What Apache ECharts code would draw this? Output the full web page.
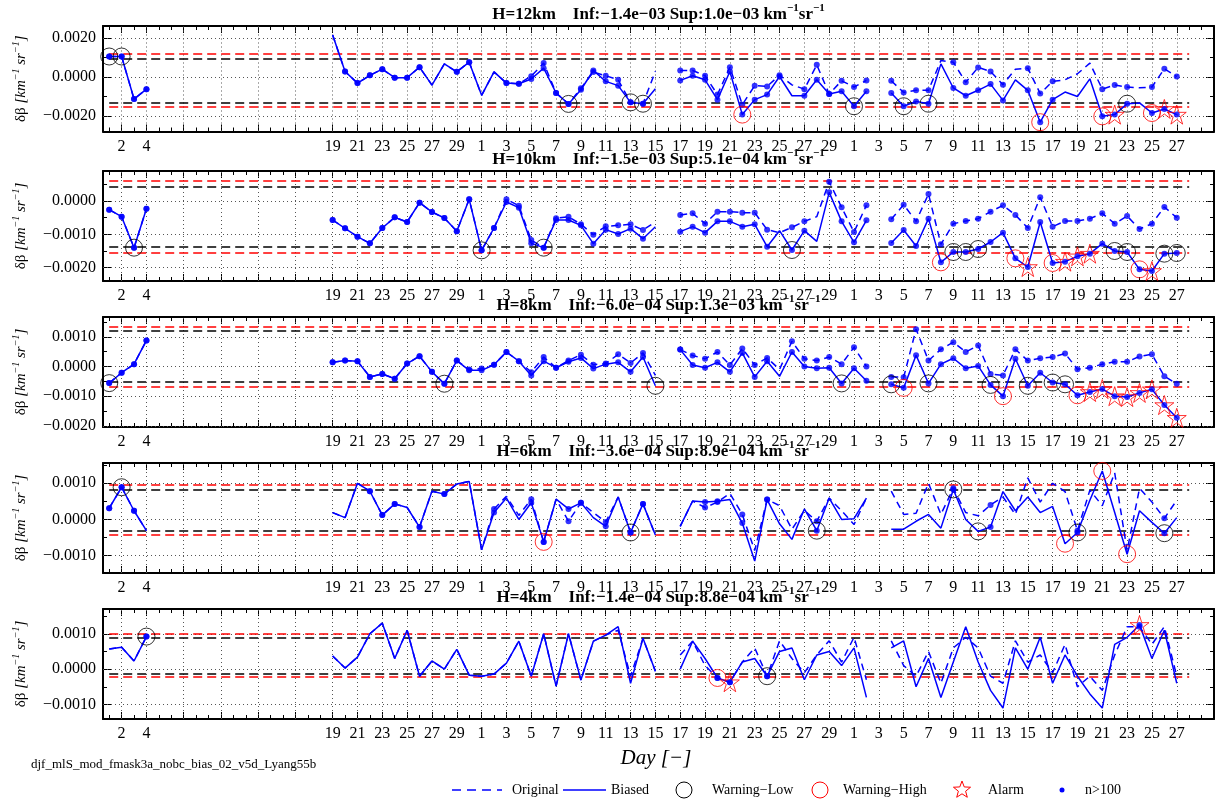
<!DOCTYPE html>
<html>
<head>
<meta charset="utf-8">
<script src="https://cdn.jsdelivr.net/npm/echarts@6/dist/echarts.min.js"></script>
<style>
  html, body { margin: 0; padding: 0; background: #ffffff; }
  #chart { width: 1221px; height: 803px; }
</style>
</head>
<body>
<div id="chart"></div>
<script>
// ---------------- axis labels ----------------
// x positions are day slots (30-day months); labelled slots and their day-of-month text
const tickSlots = [2, 4, 19, 21, 23, 25, 27, 29, 31, 33, 35, 37, 39, 41, 43, 45, 47, 49, 51, 53, 55, 57, 59,
                   61, 63, 65, 67, 69, 71, 73, 75, 77, 79, 81, 83, 85, 87];
const tickLabels = ['2', '4', '19', '21', '23', '25', '27', '29', '1', '3', '5', '7', '9', '11', '13', '15', '17', '19', '21', '23', '25', '27', '29',
                    '1', '3', '5', '7', '9', '11', '13', '15', '17', '19', '21', '23', '25', '27'];
const gapGridSlots = [7, 10, 13, 16];

// ---------------- H = 12 km ----------------
const bias12 = [0.00106, 0.00106, -0.00113, -0.00062, null, null, null, null, null, null,
  null, null, null, null, null, null, null, null, 0.00217, 0.00029,
  -0.00031, 0.00009, 0.00041, -0.00003, -0.00003, 0.00051, -0.00041, 0.00068, 0.00027, 0.00077,
  -0.00094, 0.00027, -0.00031, -0.00034, -0.0001, 0.00046, -0.00082, -0.00138, -0.00065, 0.00034,
  -0.00022, -0.00044, -0.0013, -0.00137, -0.0006, null, -0.00017, 0.00007, -0.00014, -0.00116,
  0.00029, -0.00193, -0.00116, -0.0009, 0.00003, -0.00096, -0.00096, -0.00014, -0.00087, -0.00073,
  -0.0015, -0.00073, null, -0.00082, -0.0015, -0.00125, -0.00137, 0.00068, -0.00056, -0.00096,
  -0.00068, -0.00036, -0.0012, -0.00014, -0.00068, -0.00232, -0.00116, -0.00077, -0.001, -0.00009,
  -0.00202, -0.00193, -0.00137, -0.00133, -0.00185, -0.00164, -0.00193];
const orig12 = [0.00106, 0.00106, -0.00113, -0.00062, null, null, null, null, null, null,
  null, null, null, null, null, null, null, null, 0.00217, 0.00029,
  -0.00031, 0.00009, 0.00041, -0.00003, -0.00003, 0.00051, -0.00041, 0.00068, 0.00027, 0.00077,
  -0.00094, 0.00027, -0.00031, -0.00034, 0.00005, 0.00072, -0.00082, -0.00138, -0.00058, 0.00026,
  0.00007, -0.00014, -0.0013, -0.00137, 0.0003, null, 0.00034, 0.00034, 0.00007, -0.0009,
  0.00051, -0.00142, -0.00044, -0.00048, 0.0001, -0.0004, -0.00062, 0.00063, -0.00087, -0.00019,
  -0.00051, -0.00017, null, -0.00019, -0.00079, -0.00068, -0.00068, 0.00085, 0.00077, -0.00027,
  0.0005, 0.00029, -0.00039, 0.00041, 0.00046, -0.00085, -0.00022, -0.00014, 0.00017, 0.00072,
  -0.00062, -0.00041, -0.00051, -0.00055, -0.00051, 0.00043, 0.00003];
const dots12 = [1, 2, 3, 4, 20, 21, 22, 23, 24, 25, 26, 29, 30, 33, 34, 35, 36, 37, 38, 39, 40, 41, 42, 43, 44,
  47, 48, 49, 50, 51, 52, 53, 54, 55, 57, 58, 59, 60, 61, 62, 64, 65, 66, 67, 69, 70, 71, 72, 73, 75, 76, 77,
  81, 82, 83, 85, 86, 87];
const low12 = [1, 2, 38, 43, 44, 61, 65, 67, 83];
const high12 = [52, 76, 81, 85];
const alarm12 = [82, 86, 87];
const black12 = [-0.0013, 0.00095];
const red12 = [-0.00155, 0.0012];
const yRange12 = [-0.0028, 0.00263];
const yLabels12 = [-0.002, 0, 0.002];
const yMinor12 = [-0.001, 0.001];

// ---------------- H = 10 km ----------------
const bias10 = [-0.00026, -0.00047, -0.0014, -0.00023, null, null, null, null, null, null,
  null, null, null, null, null, null, null, null, -0.00057, -0.00082,
  -0.00107, -0.00127, -0.00081, -0.00049, -0.00063, -0.00005, -0.00033, -0.00051, -0.00091, 0.00005,
  -0.00148, -0.00081, -0.00003, -0.0002, -0.00127, -0.0014, -0.00057, -0.00057, -0.00073, -0.00128,
  -0.00086, -0.00099, -0.00083, -0.00113, -0.00077, null, -0.00092, -0.00077, -0.00095, -0.00061,
  -0.00061, -0.00077, -0.0007, -0.00137, -0.00089, -0.00147, -0.00089, -0.00121, 0.00026, -0.00061,
  -0.00124, -0.00058, null, -0.00126, -0.00087, -0.00135, -0.00053, -0.00184, -0.00153, -0.00153,
  -0.00144, -0.00123, -0.00095, -0.00172, -0.00198, -0.00063, -0.00186, -0.00182, -0.00166, -0.00158,
  -0.00128, -0.0015, -0.00153, -0.00205, -0.0021, -0.00158, -0.00156];
const orig10 = [-0.00026, -0.00047, -0.0014, -0.00023, null, null, null, null, null, null,
  null, null, null, null, null, null, null, null, -0.00057, -0.00082,
  -0.00107, -0.00127, -0.00081, -0.00049, -0.00063, -0.00005, -0.00033, -0.00051, -0.00091, 0.00005,
  -0.00148, -0.00081, 0.00005, -0.00014, -0.00117, -0.0014, -0.00052, -0.00047, -0.0007, -0.00101,
  -0.00076, -0.00073, -0.0007, -0.00087, -0.00063, null, -0.00042, -0.00037, -0.00068, -0.00032,
  -0.00032, -0.00035, -0.00035, -0.00086, -0.00095, -0.00079, -0.00061, -0.00047, 0.00058, -0.00019,
  -0.00093, -0.00013, null, -0.00055, -0.00011, -0.00061, 0.00021, -0.0013, -0.00068, -0.0006,
  -0.00053, -0.00032, -0.00013, -0.00042, -0.00081, 0.00011, -0.00077, -0.0006, -0.0006, -0.00053,
  -0.00037, -0.00068, -0.00045, -0.00084, -0.00068, -0.00018, -0.0005];
const dots10 = [1, 2, 3, 4, 19, 20, 21, 22, 23, 24, 25, 26, 27, 28, 29, 30, 31, 32, 33, 34, 35, 36, 37, 38, 39,
  40, 41, 42, 43, 44, 47, 48, 49, 50, 51, 52, 53, 54, 56, 57, 59, 60, 61, 62, 64, 65, 66, 67, 68, 69, 70, 71,
  72, 73, 74, 75, 76, 77, 78, 79, 80, 81, 82, 83, 84, 85, 86, 87];
const low10 = [3, 31, 36, 56, 69, 70, 71, 82, 83, 86, 87];
const high10 = [68, 74, 77, 84];
const alarm10 = [75, 78, 79, 80, 85];
const black10 = [-0.00138, 0.00044];
const red10 = [-0.00156, 0.0006];
const yRange10 = [-0.0024, 0.0009];
const yLabels10 = [-0.002, -0.001, 0];
const yMinor10 = [-0.0015, -0.0005, 0.0005];

// ---------------- H = 8 km ----------------
const bias8 = [-0.00056, -0.00021, 0.00008, 0.00088, null, null, null, null, null, null,
  null, null, null, null, null, null, null, null, 0.00014, 0.0002,
  0.00018, -0.00035, -0.00025, -0.00041, 0.0001, 0.00035, -0.00018, -0.00058, 0.0002, -0.00013,
  -0.00013, 0.00006, 0.00049, 0.00018, -0.0003, 0.00018, -0.00004, 0.00016, 0.00029, -0.00007,
  0.00008, 0.00014, -0.00018, 0.00032, -0.00065, null, 0.00057, 0.00005, -0.00004, 0.00014,
  -0.00018, 0.00046, -0.00035, 0.00018, -0.00033, 0.00049, 0.0, -0.00006, -0.00004, -0.00057,
  -0.00006, -0.00048, null, -0.0006, -0.00072, 0.00038, -0.00057, 0.00008, 0.00028, -0.00006,
  0.00002, -0.00062, -0.001, 0.00026, -0.00065, -0.00021, -0.00054, -0.0006, -0.00097, -0.00086,
  -0.00076, -0.001, -0.00103, -0.00089, -0.00077, -0.0013, -0.00173];
const orig8 = [-0.00056, -0.00021, 0.00008, 0.00088, null, null, null, null, null, null,
  null, null, null, null, null, null, null, null, 0.00014, 0.0002,
  0.00018, -0.00035, -0.00025, -0.00041, 0.0001, 0.00035, -0.00018, -0.00058, 0.0002, -0.0001,
  -0.00007, 0.00006, 0.00049, 0.00018, -0.00019, 0.00032, -0.00004, 0.0002, 0.0004, 0.00006,
  0.0001, 0.00041, 0.00012, 0.00046, -0.0003, null, 0.00057, 0.00037, 0.00026, 0.00049,
  0.00005, 0.00061, 0.00005, 0.00029, -0.0001, 0.00085, 0.00026, 0.0002, 0.00032, 0.00008,
  0.00065, 0.0, null, -0.00035, -0.00036, 0.00126, 0.0002, 0.00058, 0.00082, 0.00049,
  0.00071, -0.00025, -0.0003, 0.00058, 0.0002, 0.00028, 0.00032, 0.00044, -0.00009, -0.00004,
  0.00008, 0.00016, 0.00016, 0.00034, 0.00041, -0.00033, -0.00058];
const dots8 = [1, 2, 3, 4, 19, 20, 21, 22, 23, 24, 25, 26, 27, 28, 29, 30, 31, 32, 33, 34, 35, 36, 37, 38, 39,
  40, 41, 42, 43, 44, 47, 48, 49, 50, 51, 52, 53, 54, 56, 57, 58, 59, 60, 61, 62, 64, 65, 66, 67, 68, 69, 70,
  71, 72, 73, 74, 75, 76, 77, 78, 79, 80, 81, 82, 83, 84, 85, 86, 87];
const low8 = [1, 28, 45, 60, 64, 67, 72, 75, 77, 78];
const high8 = [65, 73, 79];
const alarm8 = [80, 81, 82, 83, 84, 85, 86, 87];
const black8 = [-0.0005, 0.00119];
const red8 = [-0.00068, 0.00133];
const yRange8 = [-0.00204, 0.00167];
const yLabels8 = [-0.002, -0.001, 0, 0.001];
const yMinor8 = [-0.0015, -0.0005, 0.0005, 0.0015];

// ---------------- H = 6 km ----------------
const bias6 = [0.00031, 0.00089, 0.00024, -0.00031, null, null, null, null, null, null,
  null, null, null, null, null, null, null, null, 0.00019, 0.00005,
  0.001, 0.00078, 0.00012, 0.00043, 0.00033, -0.00021, 0.00078, 0.0007, 0.00098, 0.00105,
  -0.00084, 0.00019, 0.00059, 0.0, 0.00046, -0.00062, 0.00056, 0.00029, 0.00046, 0.00005,
  -0.00019, 0.00062, -0.00036, 0.00043, -0.00043, null, -0.00019, 0.00051, 0.00048, 0.0005,
  0.00055, -0.0001, -0.00115, 0.00055, -0.00012, -0.00055, 0.00029, -0.00031, 0.00059, 0.0,
  0.00002, 0.00059, null, -0.00027, -0.00027, -0.00005, 0.00014, -0.00024, 0.00083, 0.0,
  -0.00033, -0.00021, 0.00077, 0.00024, 0.00062, 0.00019, 0.00036, -0.00067, -0.00036, 0.00053,
  0.00134, 0.00019, -0.00096, 0.00024, -0.00008, -0.00038, 0.00005];
const orig6 = [0.00031, 0.00089, 0.00024, -0.00031, null, null, null, null, null, null,
  null, null, null, null, null, null, null, null, 0.00019, 0.00005,
  0.001, 0.00078, 0.00012, 0.00043, 0.00033, -0.00021, 0.00078, 0.0007, 0.00098, 0.00105,
  -0.00084, 0.00029, 0.00064, 0.00011, 0.00056, -0.00062, 0.00056, -0.00005, 0.00046, 0.00019,
  -0.00007, 0.00062, -0.00036, 0.00043, -0.00043, null, -0.00019, 0.00051, 0.00033, 0.00048,
  0.00072, 0.00014, -0.00086, 0.00055, 0.00038, -0.00027, 0.00025, -0.00005, 0.00059, 0.00024,
  -0.00014, 0.00059, null, 0.00078, 0.00014, 0.00017, 0.001, 0.00014, 0.00086, 0.00019,
  0.0001, 0.0004, 0.00062, 0.00014, 0.00115, 0.00048, 0.001, 0.00077, -0.00031, 0.00081,
  0.00038, 0.00129, -0.00086, 0.00086, 0.00048, 0.00003, 0.00053];
const dots6 = [1, 2, 3, 22, 23, 24, 26, 28, 32, 35, 36, 38, 39, 41, 43, 44, 49, 50, 52, 54, 58, 69, 72, 79, 86];
const low6 = [2, 43, 58, 69, 71, 79, 86];
const high6 = [36, 78, 81, 83];
const alarm6 = [];
const black6 = [-0.00031, 0.00083];
const red6 = [-0.00041, 0.00096];
const yRange6 = [-0.00148, 0.00156];
const yLabels6 = [-0.001, 0, 0.001];
const yMinor6 = [-0.0005, 0.0005, 0.0015];

// ---------------- H = 4 km ----------------
const bias4 = [0.00057, 0.00062, 0.00023, 0.00092, null, null, null, null, null, null,
  null, null, null, null, null, null, null, null, 0.00037, 0.00003,
  0.00034, 0.001, 0.0013, 0.0003, 0.0011, -0.0002, 0.00023, 0.0, 0.00056, -0.00017,
  -0.0002, -0.00014, 0.00017, 0.00079, -0.0002, 0.001, -0.00048, 0.001, -0.00031, 0.00079,
  0.00096, 0.0012, -0.0004, 0.00087, -0.00006, null, 0.0, 0.00079, 0.0003, -0.00025,
  -0.00037, 0.0002, 0.0003, -0.0002, 0.0005, 0.0006, -0.0003, 0.0004, 0.0005, 0.0001,
  0.0006, -0.0008, null, 0.0006, 0.0008, -0.0005, 0.0003, -0.0008, 0.0002, 0.0012,
  0.0002, -0.0006, -0.0011, 0.0006, 0.0, 0.0009, -0.0004, 0.0004, -0.0002, -0.0007,
  -0.0011, 0.0007, 0.0009, 0.00125, 0.0003, 0.0011, -0.0004];
const orig4 = [0.00057, 0.00062, 0.00023, 0.00092, null, null, null, null, null, null,
  null, null, null, null, null, null, null, null, 0.00037, 0.00003,
  0.00034, 0.001, 0.0013, 0.0003, 0.0011, -0.0002, 0.00023, 0.0, 0.00056, -0.00017,
  -0.0002, -0.00014, 0.00017, 0.00079, -0.0002, 0.001, -0.00048, 0.001, -0.00031, 0.00079,
  0.00096, 0.0011, -0.0002, 0.00087, -0.00006, null, 0.0004, 0.00079, 0.0001, -0.00025,
  -0.00037, 0.0002, 0.0006, -0.0002, 0.0008, 0.0003, -0.0001, 0.0004, 0.0008, 0.0002,
  0.0009, -0.0003, null, 0.0008, 0.0001, -0.0002, 0.0005, -0.0004, 0.0006, 0.0009,
  0.0006, -0.0002, -0.0004, 0.0008, 0.0002, 0.0004, -0.0001, 0.0007, -0.0005, -0.0002,
  -0.0006, 0.0004, 0.0012, 0.0012, 0.0007, 0.0012, -0.0002];
const dots4 = [4, 50, 51, 54, 84];
const low4 = [4, 54];
const high4 = [50];
const alarm4 = [51, 84];
const black4 = [-0.00014, 0.00088];
const red4 = [-0.00022, 0.001];
const yRange4 = [-0.00141, 0.0017];
const yLabels4 = [-0.001, 0, 0.001];
const yMinor4 = [-0.0005, 0.0005, 0.0015];

const heights = ['12', '10', '8', '6', '4'];
const infText = ['−1.4e−03', '−1.5e−03', '−6.0e−04', '−3.6e−04', '−1.4e−04'];
const supText = ['1.0e−03', '5.1e−04', '1.3e−03', '8.9e−04', '8.8e−04'];

// ---------------- layout & style ----------------
const FONT = '"Liberation Serif", "Times New Roman", serif';
const BLUE = '#0000ff';
const RED = '#ff0000';
const STAR = 'path://M50,0 L61.2,34.5 L97.6,34.5 L68.2,55.9 L79.4,90.5 L50,69.1 L20.6,90.5 L31.8,55.9 L2.4,34.5 L38.8,34.5 Z';
const GRID_LEFT = 103, GRID_WIDTH = 1111;
const GRID_TOPS = [26, 171, 317, 463, 609];
const GRID_HEIGHTS = [105.5, 110, 110, 110, 110];
const X_MIN = 0.5, X_MAX = 90;

const panels = [
  { B: bias12, O: orig12, dots: dots12, low: low12, high: high12, alarm: alarm12, black: black12, red: red12, range: yRange12, labels: yLabels12, minor: yMinor12 },
  { B: bias10, O: orig10, dots: dots10, low: low10, high: high10, alarm: alarm10, black: black10, red: red10, range: yRange10, labels: yLabels10, minor: yMinor10 },
  { B: bias8, O: orig8, dots: dots8, low: low8, high: high8, alarm: alarm8, black: black8, red: red8, range: yRange8, labels: yLabels8, minor: yMinor8 },
  { B: bias6, O: orig6, dots: dots6, low: low6, high: high6, alarm: alarm6, black: black6, red: red6, range: yRange6, labels: yLabels6, minor: yMinor6 },
  { B: bias4, O: orig4, dots: dots4, low: low4, high: high4, alarm: alarm4, black: black4, red: red4, range: yRange4, labels: yLabels4, minor: yMinor4 }
];

const daySlots = [];
for (let s = 1; s < X_MAX; s++) daySlots.push(s);
const gridSlots = tickSlots.concat(gapGridSlots);

function dayLabel(v) {
  const i = tickSlots.indexOf(Math.round(v));
  return i >= 0 ? tickLabels[i] : '';
}
function yLabel(v) {
  const t = Math.abs(v).toFixed(4);
  return (v < -1e-12 ? '−' : '') + t;
}

const option = {
  animation: false,
  backgroundColor: '#ffffff',
  grid: [], xAxis: [], yAxis: [], series: [], graphic: []
};

function xAxisDef(k, position, ticks, tickLen, withLine, withLabels) {
  return {
    type: 'value', gridIndex: k, min: X_MIN, max: X_MAX, position: position,
    axisLine: { show: withLine, onZero: false, lineStyle: { color: '#000', width: 2 } },
    axisTick: { show: true, inside: true, length: tickLen, customValues: ticks, lineStyle: { color: '#000', width: 1 } },
    axisLabel: withLabels ? {
      show: true, customValues: tickSlots, formatter: dayLabel, margin: 7,
      color: '#000', fontFamily: FONT, fontSize: 16
    } : { show: false },
    splitLine: { show: false }
  };
}
function yAxisDef(k, p, position, ticks, tickLen, withLine, withLabels) {
  const ax = {
    type: 'value', gridIndex: k, min: p.range[0], max: p.range[1], position: position,
    axisLine: { show: withLine, onZero: false, lineStyle: { color: '#000', width: 2 } },
    axisTick: { show: true, inside: true, length: tickLen, customValues: ticks, lineStyle: { color: '#000', width: 1 } },
    axisLabel: withLabels ? {
      show: true, customValues: p.labels, formatter: yLabel, margin: 7,
      color: '#000', fontFamily: FONT, fontSize: 16
    } : { show: false },
    splitLine: { show: false }
  };
  if (withLabels) {
    ax.name = '{g|δβ }{i|[km}{s|−1}{i| sr}{s|−1}{i|]}';
    ax.nameLocation = 'middle';
    ax.nameRotate = 90;
    ax.nameGap = 74;
    ax.nameTextStyle = {
      rich: {
        g: { fontFamily: FONT, fontSize: 15, color: '#000', lineHeight: 18, verticalAlign: 'bottom' },
        i: { fontFamily: FONT, fontSize: 15, fontStyle: 'italic', color: '#000', lineHeight: 18, verticalAlign: 'bottom' },
        s: { fontFamily: FONT, fontSize: 10, fontStyle: 'italic', color: '#000', lineHeight: 11, verticalAlign: 'top' }
      }
    };
  }
  return ax;
}

panels.forEach(function (p, k) {
  const top = GRID_TOPS[k];
  option.grid.push({ left: GRID_LEFT, top: top, width: GRID_WIDTH, height: GRID_HEIGHTS[k], show: false });

  const xi = option.xAxis.length;
  option.xAxis.push(
    xAxisDef(k, 'bottom', gridSlots, 7, true, true),
    xAxisDef(k, 'bottom', daySlots, 4, false, false),
    xAxisDef(k, 'top', gridSlots, 7, true, false),
    xAxisDef(k, 'top', daySlots, 4, false, false)
  );
  const yi = option.yAxis.length;
  option.yAxis.push(
    yAxisDef(k, p, 'left', p.labels, 8, true, true),
    yAxisDef(k, p, 'left', p.minor, 4, false, false),
    yAxisDef(k, p, 'right', p.labels, 8, true, false),
    yAxisDef(k, p, 'right', p.minor, 4, false, false)
  );

  const on = { xAxisIndex: xi, yAxisIndex: yi };

  // dotted grid
  const gridLines = gridSlots.map(function (s) { return { coords: [[s, p.range[0]], [s, p.range[1]]] }; })
    .concat(p.labels.map(function (v) { return { coords: [[X_MIN, v], [X_MAX, v]] }; }));
  option.series.push(Object.assign({
    type: 'lines', coordinateSystem: 'cartesian2d', silent: true, z: 1,
    lineStyle: { color: '#555', width: 1, type: [1, 3], opacity: 1 },
    data: gridLines
  }, on));

  // limit lines (black and red dashed)
  const limitLines = [];
  p.black.forEach(function (v) { limitLines.push({ coords: [[1, v], [88, v]], lineStyle: { color: '#000' } }); });
  p.red.forEach(function (v) { limitLines.push({ coords: [[1, v], [88, v]], lineStyle: { color: RED } }); });
  option.series.push(Object.assign({
    type: 'lines', coordinateSystem: 'cartesian2d', silent: true, z: 2,
    lineStyle: { width: 1.5, type: [9, 5], opacity: 1 },
    data: limitLines
  }, on));

  const toPts = function (arr) { return arr.map(function (v, i) { return [i + 1, v === null ? '-' : v]; }); };

  option.series.push(Object.assign({
    type: 'line', name: 'Original', data: toPts(p.O), symbol: 'none', silent: true, z: 3,
    connectNulls: false, lineStyle: { color: BLUE, width: 1.5, type: [7, 5] }
  }, on));
  option.series.push(Object.assign({
    type: 'line', name: 'Biased', data: toPts(p.B), symbol: 'none', silent: true, z: 3,
    connectNulls: false, lineStyle: { color: BLUE, width: 1.5 }
  }, on));

  const dotPts = [];
  p.dots.forEach(function (s) { dotPts.push([s, p.O[s - 1]], [s, p.B[s - 1]]); });
  option.series.push(Object.assign({
    type: 'scatter', name: 'n>100', data: dotPts, symbol: 'circle', symbolSize: 6, silent: true, z: 4,
    itemStyle: { color: BLUE }
  }, on));

  const atBias = function (list) { return list.map(function (s) { return [s, p.B[s - 1]]; }); };
  option.series.push(Object.assign({
    type: 'scatter', name: 'Warning−Low', data: atBias(p.low), symbol: 'circle', symbolSize: 17, silent: true, z: 5,
    itemStyle: { color: 'transparent', borderColor: '#000', borderWidth: 1 }
  }, on));
  option.series.push(Object.assign({
    type: 'scatter', name: 'Warning−High', data: atBias(p.high), symbol: 'circle', symbolSize: 17, silent: true, z: 5,
    itemStyle: { color: 'transparent', borderColor: RED, borderWidth: 1 }
  }, on));
  option.series.push(Object.assign({
    type: 'scatter', name: 'Alarm', data: atBias(p.alarm), symbol: STAR, symbolSize: 19, silent: true, z: 5,
    itemStyle: { color: 'transparent', borderColor: RED, borderWidth: 1 }
  }, on));

  // panel title
  option.graphic.push({
    type: 'text', x: GRID_LEFT + GRID_WIDTH / 2, y: top - 13, silent: true,
    style: {
      text: '{b|H=' + heights[k] + 'km    Inf:' + infText[k] + ' Sup:' + supText[k] + ' km}{s|−1}{b|sr}{s|−1}',
      align: 'center', verticalAlign: 'middle',
      rich: {
        b: { fontFamily: FONT, fontSize: 17, fontWeight: 'bold', fill: '#000', lineHeight: 20, verticalAlign: 'bottom' },
        s: { fontFamily: FONT, fontSize: 11, fontWeight: 'bold', fill: '#000', lineHeight: 11, verticalAlign: 'top' }
      }
    }
  });
});

// x-axis title and run tag
option.graphic.push({
  type: 'text', x: 656, y: 758, silent: true,
  style: { text: 'Day [−]', align: 'center', verticalAlign: 'middle', fontFamily: FONT, fontSize: 21, fontStyle: 'italic', fill: '#000' }
});
option.graphic.push({
  type: 'text', x: 31, y: 765, silent: true,
  style: { text: 'djf_mlS_mod_fmask3a_nobc_bias_02_v5d_Lyang55b', align: 'left', verticalAlign: 'middle', fontFamily: FONT, fontSize: 13, fill: '#000' }
});

// legend row
function starPoints(cx, cy, R, r) {
  const pts = [];
  for (let i = 0; i < 10; i++) {
    const a = -Math.PI / 2 + i * Math.PI / 5;
    const rad = i % 2 ? r : R;
    pts.push([cx + rad * Math.cos(a), cy + rad * Math.sin(a)]);
  }
  return pts;
}
const LY = 790;
const legendText = function (x, t) {
  return { type: 'text', x: x, y: LY, silent: true,
    style: { text: t, align: 'left', verticalAlign: 'middle', fontFamily: FONT, fontSize: 14, fill: '#000' } };
};
option.graphic.push(
  { type: 'line', silent: true, shape: { x1: 452, y1: LY, x2: 502, y2: LY }, style: { stroke: BLUE, lineWidth: 1.5, lineDash: [9, 6] } },
  legendText(512, 'Original'),
  { type: 'line', silent: true, shape: { x1: 563, y1: LY, x2: 606, y2: LY }, style: { stroke: BLUE, lineWidth: 1.5 } },
  legendText(611, 'Biased'),
  { type: 'circle', silent: true, shape: { cx: 684, cy: LY, r: 8 }, style: { stroke: '#000', fill: 'none', lineWidth: 1 } },
  legendText(712, 'Warning−Low'),
  { type: 'circle', silent: true, shape: { cx: 820, cy: LY, r: 8 }, style: { stroke: RED, fill: 'none', lineWidth: 1 } },
  legendText(843, 'Warning−High'),
  { type: 'polygon', silent: true, shape: { points: starPoints(962, LY, 9, 3.8) }, style: { stroke: RED, fill: 'none', lineWidth: 1 } },
  legendText(988, 'Alarm'),
  { type: 'circle', silent: true, shape: { cx: 1062, cy: LY, r: 2.5 }, style: { fill: BLUE } },
  legendText(1085, 'n>100')
);

const chart = echarts.init(document.getElementById('chart'), null, { renderer: 'canvas', width: 1221, height: 803 });
chart.setOption(option);
</script>
</body>
</html>
